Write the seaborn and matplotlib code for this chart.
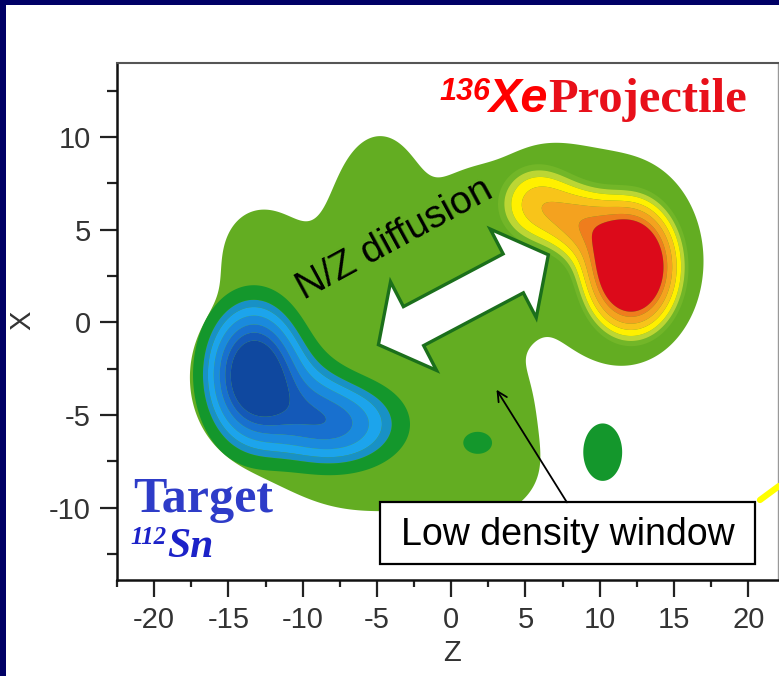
import numpy as np
import matplotlib
matplotlib.use("Agg")
import matplotlib.pyplot as plt
import seaborn as sns
from matplotlib.patches import Polygon, Rectangle
from matplotlib.lines import Line2D

# ---------------- data ----------------
z_ticks = [-20, -15, -10, -5, 0, 5, 10, 15, 20]
x_ticks = [-10, -5, 0, 5, 10]
z_lim = (-22.1, 22.0)
x_lim = (-13.9, 14.0)

# density sources outlining the occupied (green) region
env_z  = [-13.0, -7.0, -13.0, -4.8, -4.5,  2.5, -1.5,  1.5, 11.5,  6.0,  3.2]
env_x  = [ -3.0, -6.5,   4.0,  6.8,  1.5, -5.8, -8.3,  6.0,  3.3,  6.5,  1.2]
env_sz = [  3.3,  3.0,   1.9,  1.9,  4.3,  2.5,  4.5,  1.8,  3.7,  2.5,  1.8]
env_sx = [  3.3,  2.2,   1.8,  2.6,  4.0,  3.0,  1.6,  1.7,  3.8,  2.2,  1.5]
env_w  = [  2.6,  2.0,   1.5,  1.7,  2.2,  2.0,  1.5,  1.4,  3.0,  2.0,  1.4]

# signed sources: target (negative, blue) / projectile (positive, red)
src_z  = [-13.3, -10.0, -7.8,  1.8, 10.2, 12.1, 8.8, 5.8]
src_x  = [ -2.8,  -4.0, -5.5, -6.5, -7.0,  3.0, 5.3, 6.4]
src_sz = [  1.9,   1.9,  2.8, 1.05, 1.35,  1.9, 1.6, 2.0]
src_sx = [ 2.24,   1.7,  1.5, 0.65,  1.6,  2.1, 1.3, 1.6]
src_w  = [-10.0,  -2.0, -5.0, -1.5, -1.6,  8.0, 2.0, 2.4]

neg_levels = [-1000, -7.3, -6.1, -4.9, -3.7, -2.7, -2.0, -1.0]
neg_colors = ['#0f489f', '#1459b8', '#1870cf', '#1a8add', '#1ca4ec', '#1891c6', '#14972c']
pos_levels = [1.0, 1.3, 1.65, 2.15, 2.75, 3.5, 4.12, 1000]
pos_colors = ['#72b628', '#bcd634', '#fff000', '#f8c41a', '#f4a21f', '#ef7d1d', '#dc0a1a']
base_green = '#63ad22'

# ---------------- figure ----------------
sns.set_style("ticks")
plt.rcParams['font.family'] = ['Liberation Sans', 'DejaVu Sans']
plt.rcParams['axes.unicode_minus'] = False

W, H, DPI = 779, 676, 100
fig = plt.figure(figsize=(W / DPI, H / DPI), dpi=DPI, facecolor='white')
ax = fig.add_axes([117 / W, 1 - 580 / H, 661 / W, 517 / H])

zg = np.linspace(z_lim[0], z_lim[1], 700)
xg = np.linspace(x_lim[0], x_lim[1], 500)
ZZ, XX = np.meshgrid(zg, xg)


def blob_sum(zs, xs, szs, sxs, ws):
    out = np.zeros_like(ZZ)
    for z0, x0, sz, sx, w in zip(zs, xs, szs, sxs, ws):
        out += w * np.exp(-0.5 * ((ZZ - z0) / sz) ** 2 - 0.5 * ((XX - x0) / sx) ** 2)
    return out


D = blob_sum(env_z, env_x, env_sz, env_sx, env_w)
S = blob_sum(src_z, src_x, src_sz, src_sx, src_w)

ax.contourf(ZZ, XX, D, levels=[1.0, 1e6], colors=[base_green], antialiased=True)
ax.contourf(ZZ, XX, S, levels=neg_levels, colors=neg_colors, antialiased=True)
ax.contourf(ZZ, XX, S, levels=pos_levels, colors=pos_colors, antialiased=True)

ax.set_xlim(*z_lim)
ax.set_ylim(*x_lim)
ax.set_xticks(z_ticks)
ax.set_yticks(x_ticks)
ax.set_xticks(np.arange(-22.5, 22.1, 2.5), minor=True)
ax.set_yticks(np.arange(-12.5, 14.0, 2.5), minor=True)
ax.tick_params(axis='both', which='major', direction='out', length=12, width=1.6,
               labelsize=21, labelcolor='#333333', color='#222222', pad=7)
ax.tick_params(axis='x', which='minor', direction='out', length=5, width=1.6, color='#222222')
ax.tick_params(axis='y', which='minor', direction='out', length=7, width=1.6, color='#222222')
ax.tick_params(top=False, right=False, which='both')
ax.set_xlabel('Z', fontsize=21, color='#333333')
ax.set_ylabel('X', fontsize=21, color='#333333')
ax.xaxis.set_label_coords(0.507, -0.115)
ax.yaxis.set_label_coords(-0.122, 0.503)
for side in ['left', 'bottom']:
    ax.spines[side].set_color('#111111')
    ax.spines[side].set_linewidth(1.8)
ax.spines['top'].set_color('#555555')
ax.spines['top'].set_linewidth(1.5)
ax.spines['right'].set_color('#999999')
ax.spines['right'].set_linewidth(1.0)

# ---- double arrow (N/Z diffusion) ----
fig.canvas.draw()
bb = ax.get_window_extent()
pz = bb.width / (z_lim[1] - z_lim[0])
px_ = bb.height / (x_lim[1] - x_lim[0])
tipL = np.array([-4.9, -1.2])
tipR = np.array([6.54, 3.65])
pL = np.array([tipL[0] * pz, tipL[1] * px_])
pR = np.array([tipR[0] * pz, tipR[1] * px_])
u = (pR - pL) / np.linalg.norm(pR - pL)
n = np.array([-u[1], u[0]])
hl, hw, sw = 40.0, 50.0, 22.0
pts = [pL,
       pL + hl * u + hw * n,
       pL + hl * u + sw * n,
       pR - hl * u + sw * n,
       pR - hl * u + hw * n,
       pR,
       pR - hl * u - hw * n,
       pR - hl * u - sw * n,
       pL + hl * u - sw * n,
       pL + hl * u - hw * n]
pts = np.array([[p[0] / pz, p[1] / px_] for p in pts])
ax.add_patch(Polygon(pts, closed=True, facecolor='white', edgecolor='#1b6f1b',
                     linewidth=2.4, joinstyle='miter', zorder=6))

ax.text(-9.9, 1.22, 'N/Z diffusion', fontsize=28, rotation=28.5, rotation_mode='anchor',
        ha='left', va='baseline', color='black', zorder=7)

# ---- low density window ----
ax.add_patch(Rectangle((-4.77, -13.05), 25.22, 3.34, facecolor='white', edgecolor='black',
                       linewidth=1.6, zorder=8))
ax.text(7.86, -11.45, 'Low density window', fontsize=27, ha='center', va='center',
        color='black', zorder=9)
ax.annotate('', xy=(3.05, -3.63), xytext=(7.79, -9.71),
            arrowprops=dict(arrowstyle='->,head_length=0.7,head_width=0.35', color='black',
                            lw=1.3, shrinkA=0, shrinkB=0), zorder=9)

# ---- labels ----
ax.text(-0.8, 12.0, '136', fontsize=22, fontweight='bold', fontstyle='italic',
        color='#ff0000', ha='left', va='baseline', zorder=9)
ax.text(2.5, 11.37, 'Xe', fontsize=35, fontweight='bold', fontstyle='italic',
        color='#ff0000', ha='left', va='baseline', zorder=9)
ax.text(6.5, 11.37, 'Projectile', fontsize=35, fontweight='bold', family='Liberation Serif',
        color='#e8101a', ha='left', va='baseline', zorder=9)
ax.text(-21.4, -10.25, 'Target', fontsize=36, fontweight='bold', family='Liberation Serif',
        color='#2e3cc8', ha='left', va='baseline', zorder=9)
ax.text(-21.6, -11.98, '112', fontsize=18, fontweight='bold', fontstyle='italic',
        family='Liberation Serif', color='#1c22c8', ha='left', va='baseline', zorder=9)
ax.text(-19.1, -12.68, 'Sn', fontsize=30, fontweight='bold', fontstyle='italic',
        family='Liberation Serif', color='#1c22c8', ha='left', va='baseline', zorder=9)

# ---- frame decorations ----
navy = '#000066'
fig.add_artist(Rectangle((0, 1 - 5 / H), 1, 5 / H, transform=fig.transFigure,
                         facecolor=navy, edgecolor='none', zorder=20))
fig.add_artist(Rectangle((0, 0), 6 / W, 1, transform=fig.transFigure,
                         facecolor=navy, edgecolor='none', zorder=20))
fig.add_artist(Line2D([760 / W, 1.0], [1 - 500 / H, 1 - 486 / H], transform=fig.transFigure,
                      color='#ffff00', linewidth=4.5, zorder=20))

fig.savefig('out.png', dpi=DPI, facecolor='white')
